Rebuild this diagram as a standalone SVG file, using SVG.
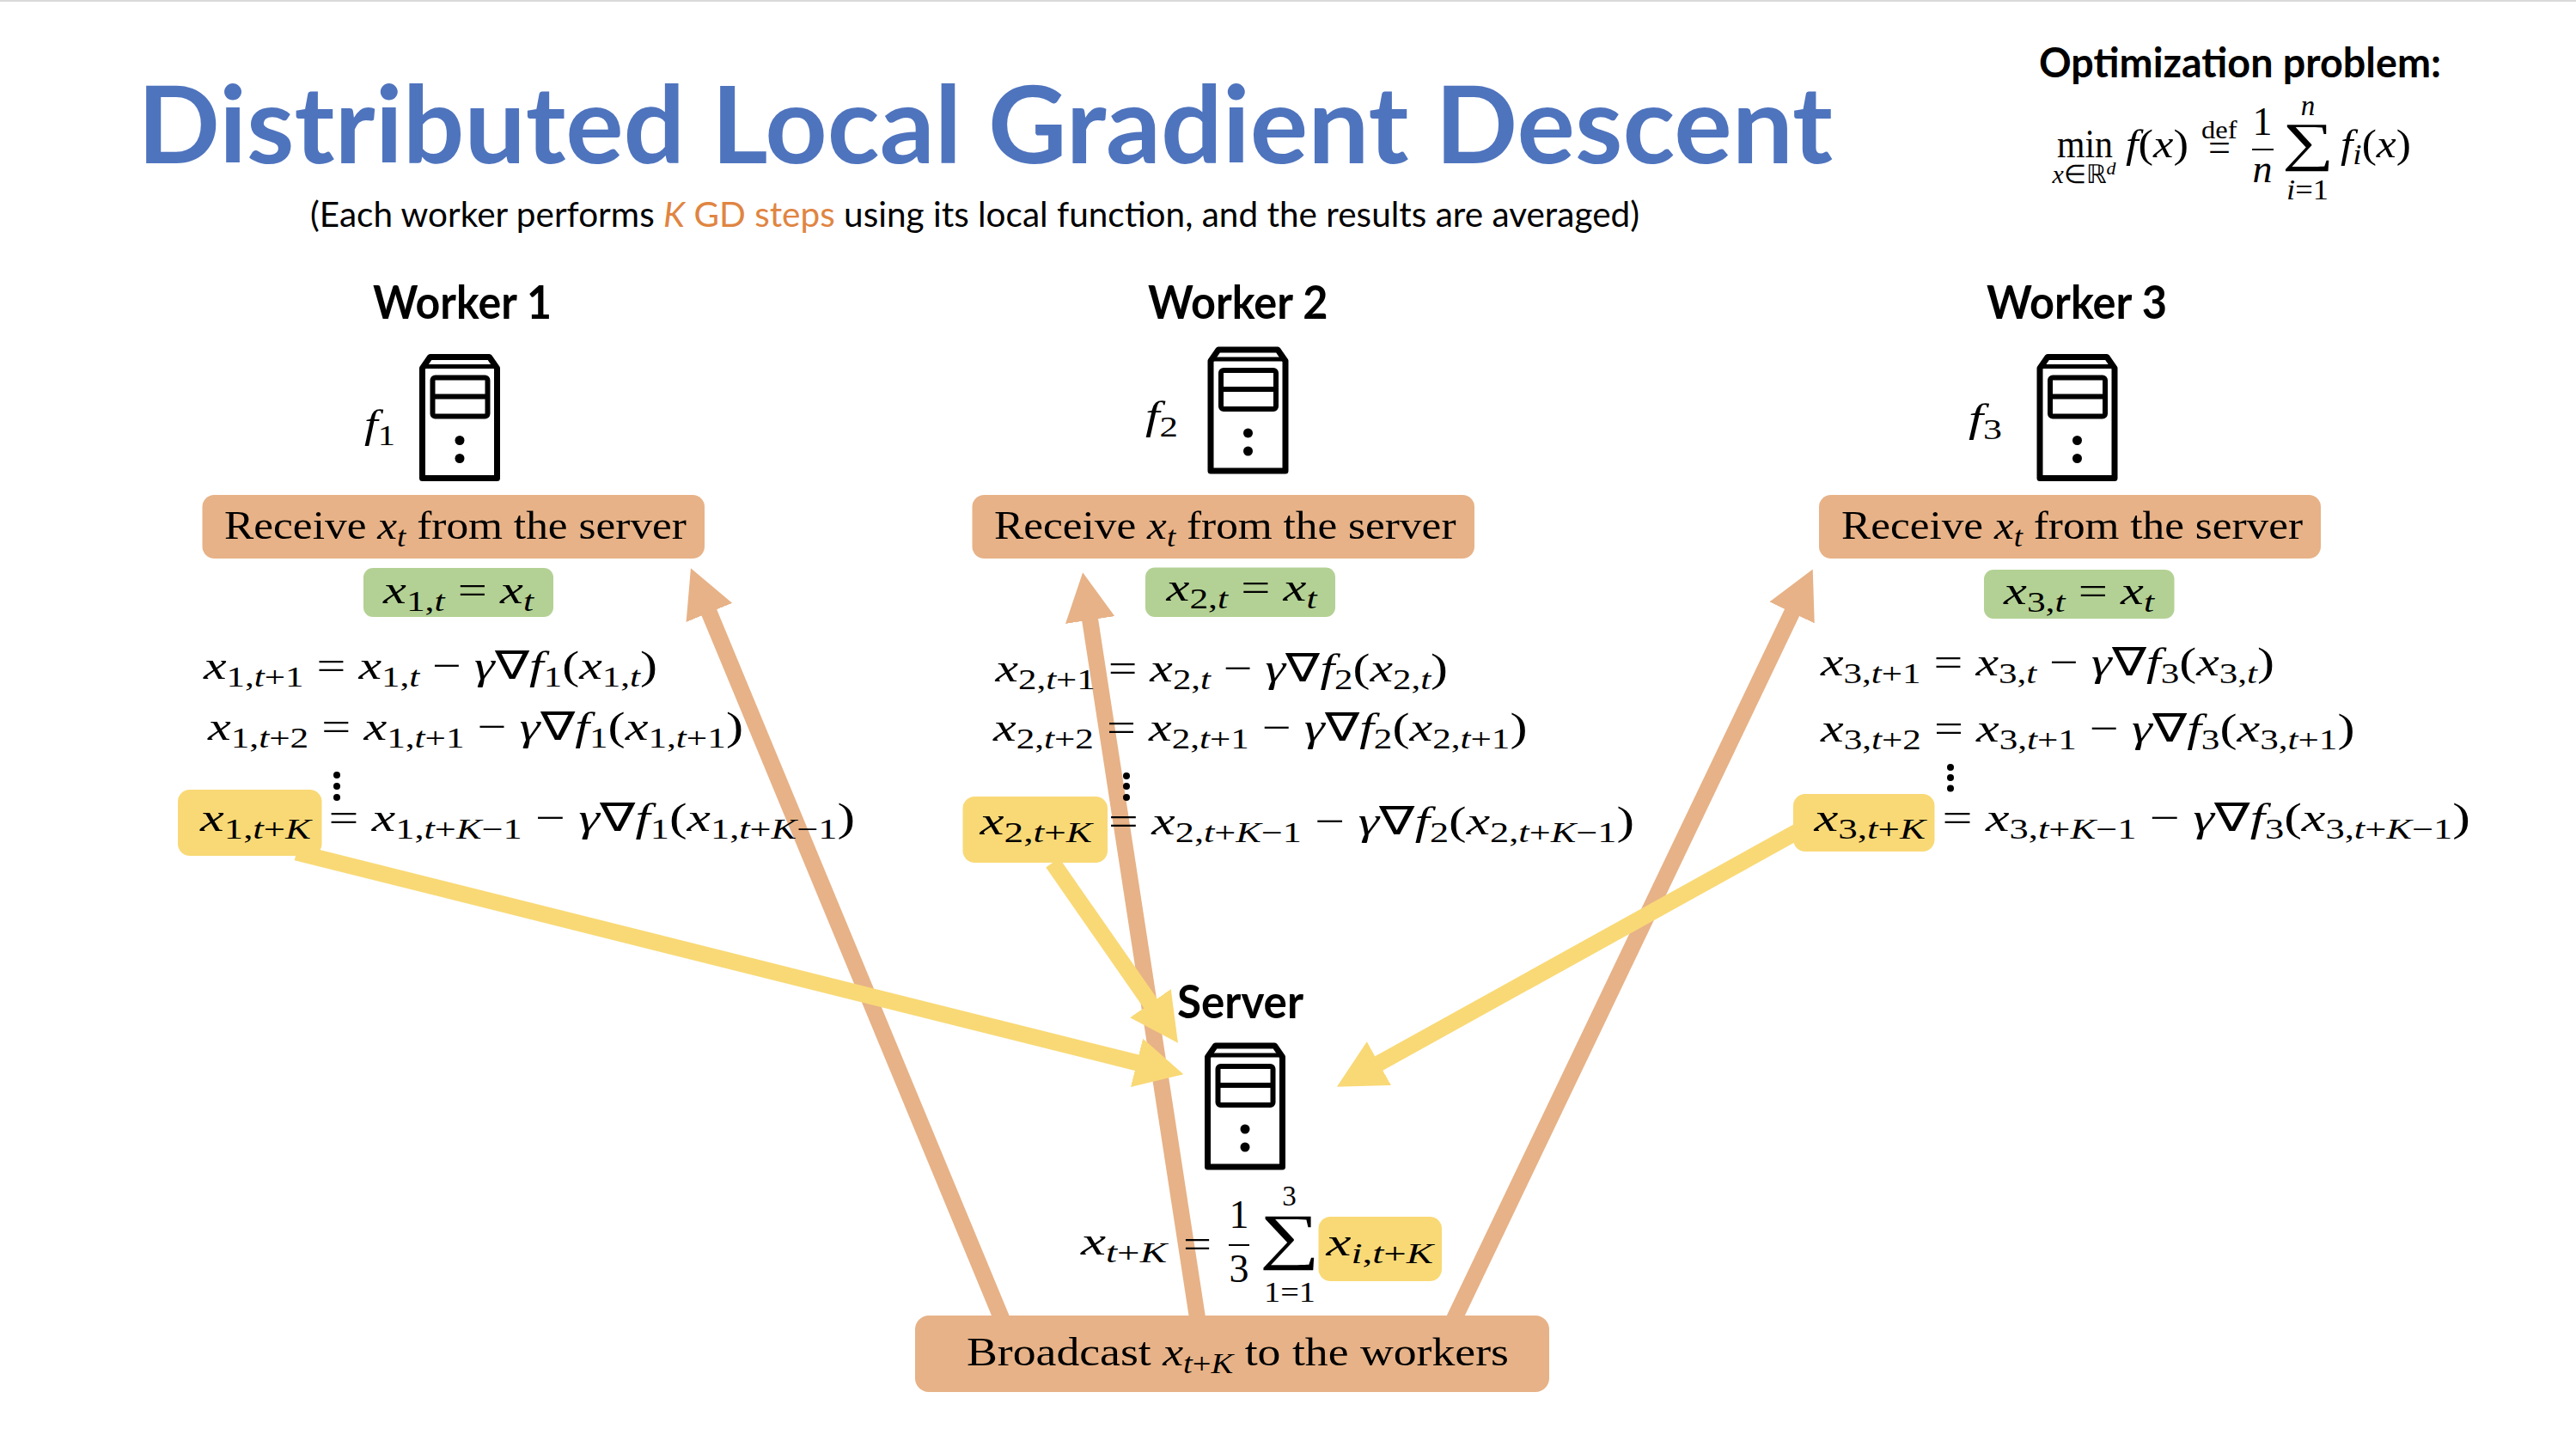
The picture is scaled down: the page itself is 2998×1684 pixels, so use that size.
<svg xmlns="http://www.w3.org/2000/svg" width="2998" height="1684" viewBox="0 0 2998 1684">
<style>
text{fill:#000;white-space:pre}
.h{font:700 53px "Lato","Open Sans",sans-serif}
.e{font:46px "Liberation Serif",serif}
.i{font-style:italic}
.s{font-size:33px}
.o{fill:#E7B287}
.g{fill:#B3D194}
.y{fill:#F9D976}
.co{fill:none;stroke:#E7B287;stroke-width:19}
.cy{fill:none;stroke:#F9D976;stroke-width:19}
</style>
<defs>
<marker id="ho" markerUnits="userSpaceOnUse" viewBox="0 0 56 58" refX="1" refY="29" markerWidth="56" markerHeight="58" orient="auto"><path d="M0 0L56 29L0 58z" fill="#E7B287"/></marker>
<marker id="hy" markerUnits="userSpaceOnUse" viewBox="0 0 56 58" refX="1" refY="29" markerWidth="56" markerHeight="58" orient="auto"><path d="M0 0L56 29L0 58z" fill="#F9D976"/></marker>
<symbol id="srv" width="95" height="149" viewBox="0 0 95 149">
<path d="M4 145V17L13 4H82L91 17V145Z" fill="none" stroke="#000" stroke-width="7" stroke-linejoin="round"/>
<path d="M4 15H91" stroke="#000" stroke-width="5"/>
<rect x="16" y="28" width="64" height="45" rx="3" fill="none" stroke="#000" stroke-width="6"/>
<path d="M16 50H80" stroke="#000" stroke-width="6"/>
<circle cx="47.500" cy="101" r="5.500"/><circle cx="47.500" cy="122" r="5.500"/>
</symbol>
</defs>
<rect width="2998" height="1684" fill="#fff"/>
<path d="M0 1H2998" stroke="#D9D9D9" stroke-width="2"/>
<g id="connectors">
<path class="co" d="M1168 1540L825 712" marker-end="url(#ho)"/>
<path class="co" d="M1394.500 1540L1268.500 720.500" marker-end="url(#ho)"/>
<path class="co" d="M1690 1540L2086 712" marker-end="url(#ho)"/>
<path class="cy" d="M345 992L1324 1237" marker-end="url(#hy)"/>
<path class="cy" d="M1225 1004L1339.500 1168.500" marker-end="url(#hy)"/>
<path class="cy" d="M2095 966L1604 1238" marker-end="url(#hy)"/>
</g>
<g id="title">
<text x="160" y="190" font-family="Lato, Open Sans, sans-serif" font-weight="700" font-size="124" style="fill:#4F74BE" textLength="1973" lengthAdjust="spacingAndGlyphs">Distributed Local Gradient Descent</text>
<text x="361" y="264" font-family="Lato, Open Sans, sans-serif" font-size="41" textLength="1547" lengthAdjust="spacingAndGlyphs">(Each worker performs <tspan font-style="italic" style="fill:#E08542">K</tspan><tspan style="fill:#E08542"> GD steps</tspan> using its local function, and the results are averaged)</text>
</g>
<g id="problem">
<text class="h" x="2373" y="90" style="font-size:47px" textLength="468" lengthAdjust="spacingAndGlyphs">Optimization problem:</text>
<text class="e" x="2394" y="183" textLength="65" lengthAdjust="spacingAndGlyphs">min</text>
<text class="e" x="2388.500" y="213" style="font-size:30px" textLength="74" lengthAdjust="spacingAndGlyphs"><tspan class="i">x</tspan>∈ℝ<tspan class="i" dy="-10" style="font-size:22px">d</tspan></text>
<text class="e" x="2474" y="183" textLength="73" lengthAdjust="spacingAndGlyphs"><tspan class="i">f</tspan>(<tspan class="i">x</tspan>)</text>
<text class="e" x="2562" y="161" style="font-size:30px" textLength="41.500" lengthAdjust="spacingAndGlyphs">def</text>
<text class="e" x="2570" y="187" textLength="26" lengthAdjust="spacingAndGlyphs">=</text>
<text class="e" x="2633" y="157" text-anchor="middle">1</text>
<path d="M2621 174H2646" stroke="#000" stroke-width="2"/>
<text class="e i" x="2633" y="212" text-anchor="middle">n</text>
<text class="e" x="2656" y="186" style="font-size:62px" textLength="60" lengthAdjust="spacingAndGlyphs">∑</text>
<text class="e i s" x="2686" y="134" text-anchor="middle">n</text>
<text class="e s" x="2661" y="232" textLength="49" lengthAdjust="spacingAndGlyphs"><tspan class="i">i</tspan>=1</text>
<text class="e" x="2724" y="183" textLength="82" lengthAdjust="spacingAndGlyphs"><tspan class="i">f</tspan><tspan class="s i" dy="8">i</tspan><tspan dy="-8">(</tspan><tspan class="i">x</tspan>)</text>
</g>
<g id="worker1">
<text class="h" x="434" y="371" textLength="208" lengthAdjust="spacingAndGlyphs">Worker 1</text>
<use href="#srv" x="487.500" y="411.500"/>
<text class="e" x="424" y="509" textLength="36" lengthAdjust="spacingAndGlyphs"><tspan class="i">f</tspan><tspan class="s" dy="9">1</tspan></text>
<rect class="o" x="235.500" y="576" width="584.500" height="74" rx="14"/>
<text class="e" x="261" y="627" textLength="538" lengthAdjust="spacingAndGlyphs">Receive <tspan class="i">x</tspan><tspan class="s i" dy="9">t</tspan><tspan dy="-9"> from the server</tspan></text>
<rect class="g" x="423" y="661" width="221" height="57" rx="11"/>
<text class="e" x="446" y="702" textLength="175" lengthAdjust="spacingAndGlyphs"><tspan class="i">x</tspan><tspan class="s" dy="9">1,<tspan class="i">t</tspan></tspan><tspan dy="-9"> = </tspan><tspan class="i">x</tspan><tspan class="s i" dy="9">t</tspan></text>
<text class="e" x="237" y="790" textLength="528" lengthAdjust="spacingAndGlyphs"><tspan class="i">x</tspan><tspan class="s" dy="9">1,<tspan class="i">t</tspan>+1</tspan><tspan dy="-9"> = </tspan><tspan class="i">x</tspan><tspan class="s" dy="9">1,<tspan class="i">t</tspan></tspan><tspan dy="-9"> − </tspan><tspan class="i">γ</tspan>∇<tspan class="i">f</tspan><tspan class="s" dy="9">1</tspan><tspan dy="-9">(</tspan><tspan class="i">x</tspan><tspan class="s" dy="9">1,<tspan class="i">t</tspan></tspan><tspan dy="-9">)</tspan></text>
<text class="e" x="242" y="861" textLength="623" lengthAdjust="spacingAndGlyphs"><tspan class="i">x</tspan><tspan class="s" dy="9">1,<tspan class="i">t</tspan>+2</tspan><tspan dy="-9"> = </tspan><tspan class="i">x</tspan><tspan class="s" dy="9">1,<tspan class="i">t</tspan>+1</tspan><tspan dy="-9"> − </tspan><tspan class="i">γ</tspan>∇<tspan class="i">f</tspan><tspan class="s" dy="9">1</tspan><tspan dy="-9">(</tspan><tspan class="i">x</tspan><tspan class="s" dy="9">1,<tspan class="i">t</tspan>+1</tspan><tspan dy="-9">)</tspan></text>
<circle cx="392" cy="902" r="4"/><circle cx="392" cy="915" r="4"/><circle cx="392" cy="928" r="4"/>
<rect class="y" x="207" y="919" width="167.500" height="77" rx="14"/>
<text class="e" x="233" y="967" textLength="129" lengthAdjust="spacingAndGlyphs"><tspan class="i">x</tspan><tspan class="s" dy="9">1,<tspan class="i">t</tspan>+<tspan class="i">K</tspan></tspan></text>
<text class="e" x="382.500" y="967" textLength="612.500" lengthAdjust="spacingAndGlyphs">= <tspan class="i">x</tspan><tspan class="s" dy="9">1,<tspan class="i">t</tspan>+<tspan class="i">K</tspan>−1</tspan><tspan dy="-9"> − </tspan><tspan class="i">γ</tspan>∇<tspan class="i">f</tspan><tspan class="s" dy="9">1</tspan><tspan dy="-9">(</tspan><tspan class="i">x</tspan><tspan class="s" dy="9">1,<tspan class="i">t</tspan>+<tspan class="i">K</tspan>−1</tspan><tspan dy="-9">)</tspan></text>
</g>
<g id="worker2">
<text class="h" x="1336" y="371" textLength="209.500" lengthAdjust="spacingAndGlyphs">Worker 2</text>
<use href="#srv" x="1405" y="403"/>
<text class="e" x="1333" y="499" textLength="38" lengthAdjust="spacingAndGlyphs"><tspan class="i">f</tspan><tspan class="s" dy="9">2</tspan></text>
<rect class="o" x="1131.500" y="576" width="584.500" height="74" rx="14"/>
<text class="e" x="1157" y="627" textLength="537.500" lengthAdjust="spacingAndGlyphs">Receive <tspan class="i">x</tspan><tspan class="s i" dy="9">t</tspan><tspan dy="-9"> from the server</tspan></text>
<rect class="g" x="1333" y="660.500" width="221" height="57.500" rx="11"/>
<text class="e" x="1357.500" y="699" textLength="175" lengthAdjust="spacingAndGlyphs"><tspan class="i">x</tspan><tspan class="s" dy="9">2,<tspan class="i">t</tspan></tspan><tspan dy="-9"> = </tspan><tspan class="i">x</tspan><tspan class="s i" dy="9">t</tspan></text>
<text class="e" x="1158.500" y="793" textLength="526.500" lengthAdjust="spacingAndGlyphs"><tspan class="i">x</tspan><tspan class="s" dy="9">2,<tspan class="i">t</tspan>+1</tspan><tspan dy="-9"> = </tspan><tspan class="i">x</tspan><tspan class="s" dy="9">2,<tspan class="i">t</tspan></tspan><tspan dy="-9"> − </tspan><tspan class="i">γ</tspan>∇<tspan class="i">f</tspan><tspan class="s" dy="9">2</tspan><tspan dy="-9">(</tspan><tspan class="i">x</tspan><tspan class="s" dy="9">2,<tspan class="i">t</tspan></tspan><tspan dy="-9">)</tspan></text>
<text class="e" x="1156" y="862" textLength="621.500" lengthAdjust="spacingAndGlyphs"><tspan class="i">x</tspan><tspan class="s" dy="9">2,<tspan class="i">t</tspan>+2</tspan><tspan dy="-9"> = </tspan><tspan class="i">x</tspan><tspan class="s" dy="9">2,<tspan class="i">t</tspan>+1</tspan><tspan dy="-9"> − </tspan><tspan class="i">γ</tspan>∇<tspan class="i">f</tspan><tspan class="s" dy="9">2</tspan><tspan dy="-9">(</tspan><tspan class="i">x</tspan><tspan class="s" dy="9">2,<tspan class="i">t</tspan>+1</tspan><tspan dy="-9">)</tspan></text>
<circle cx="1311" cy="903" r="4"/><circle cx="1311" cy="915" r="4"/><circle cx="1311" cy="928" r="4"/>
<rect class="y" x="1120.500" y="927" width="168.500" height="77" rx="14"/>
<text class="e" x="1140.500" y="971" textLength="130.500" lengthAdjust="spacingAndGlyphs"><tspan class="i">x</tspan><tspan class="s" dy="9">2,<tspan class="i">t</tspan>+<tspan class="i">K</tspan></tspan></text>
<text class="e" x="1290" y="971" textLength="612" lengthAdjust="spacingAndGlyphs">= <tspan class="i">x</tspan><tspan class="s" dy="9">2,<tspan class="i">t</tspan>+<tspan class="i">K</tspan>−1</tspan><tspan dy="-9"> − </tspan><tspan class="i">γ</tspan>∇<tspan class="i">f</tspan><tspan class="s" dy="9">2</tspan><tspan dy="-9">(</tspan><tspan class="i">x</tspan><tspan class="s" dy="9">2,<tspan class="i">t</tspan>+<tspan class="i">K</tspan>−1</tspan><tspan dy="-9">)</tspan></text>
</g>
<g id="worker3">
<text class="h" x="2312" y="371" textLength="210" lengthAdjust="spacingAndGlyphs">Worker 3</text>
<use href="#srv" x="2370" y="411.500"/>
<text class="e" x="2291" y="502" textLength="39" lengthAdjust="spacingAndGlyphs"><tspan class="i">f</tspan><tspan class="s" dy="9">3</tspan></text>
<rect class="o" x="2117" y="576" width="584" height="74" rx="14"/>
<text class="e" x="2143" y="627" textLength="537" lengthAdjust="spacingAndGlyphs">Receive <tspan class="i">x</tspan><tspan class="s i" dy="9">t</tspan><tspan dy="-9"> from the server</tspan></text>
<rect class="g" x="2309" y="663" width="221.500" height="57" rx="11"/>
<text class="e" x="2332" y="703" textLength="175" lengthAdjust="spacingAndGlyphs"><tspan class="i">x</tspan><tspan class="s" dy="9">3,<tspan class="i">t</tspan></tspan><tspan dy="-9"> = </tspan><tspan class="i">x</tspan><tspan class="s i" dy="9">t</tspan></text>
<text class="e" x="2119" y="786" textLength="528" lengthAdjust="spacingAndGlyphs"><tspan class="i">x</tspan><tspan class="s" dy="9">3,<tspan class="i">t</tspan>+1</tspan><tspan dy="-9"> = </tspan><tspan class="i">x</tspan><tspan class="s" dy="9">3,<tspan class="i">t</tspan></tspan><tspan dy="-9"> − </tspan><tspan class="i">γ</tspan>∇<tspan class="i">f</tspan><tspan class="s" dy="9">3</tspan><tspan dy="-9">(</tspan><tspan class="i">x</tspan><tspan class="s" dy="9">3,<tspan class="i">t</tspan></tspan><tspan dy="-9">)</tspan></text>
<text class="e" x="2119" y="863" textLength="621.500" lengthAdjust="spacingAndGlyphs"><tspan class="i">x</tspan><tspan class="s" dy="9">3,<tspan class="i">t</tspan>+2</tspan><tspan dy="-9"> = </tspan><tspan class="i">x</tspan><tspan class="s" dy="9">3,<tspan class="i">t</tspan>+1</tspan><tspan dy="-9"> − </tspan><tspan class="i">γ</tspan>∇<tspan class="i">f</tspan><tspan class="s" dy="9">3</tspan><tspan dy="-9">(</tspan><tspan class="i">x</tspan><tspan class="s" dy="9">3,<tspan class="i">t</tspan>+1</tspan><tspan dy="-9">)</tspan></text>
<circle cx="2270" cy="893" r="4"/><circle cx="2270" cy="905" r="4"/><circle cx="2270" cy="917.500" r="4"/>
<rect class="y" x="2087" y="924" width="164.500" height="67" rx="14"/>
<text class="e" x="2111.500" y="967" textLength="129.500" lengthAdjust="spacingAndGlyphs"><tspan class="i">x</tspan><tspan class="s" dy="9">3,<tspan class="i">t</tspan>+<tspan class="i">K</tspan></tspan></text>
<text class="e" x="2260.500" y="967" textLength="614.500" lengthAdjust="spacingAndGlyphs">= <tspan class="i">x</tspan><tspan class="s" dy="9">3,<tspan class="i">t</tspan>+<tspan class="i">K</tspan>−1</tspan><tspan dy="-9"> − </tspan><tspan class="i">γ</tspan>∇<tspan class="i">f</tspan><tspan class="s" dy="9">3</tspan><tspan dy="-9">(</tspan><tspan class="i">x</tspan><tspan class="s" dy="9">3,<tspan class="i">t</tspan>+<tspan class="i">K</tspan>−1</tspan><tspan dy="-9">)</tspan></text>
</g>
<g id="server">
<text class="h" x="1370" y="1185" textLength="147" lengthAdjust="spacingAndGlyphs">Server</text>
<use href="#srv" x="1401.500" y="1213"/>
<text class="e" x="1258" y="1460" textLength="100" lengthAdjust="spacingAndGlyphs"><tspan class="i">x</tspan><tspan class="s" dy="9"><tspan class="i">t</tspan>+<tspan class="i">K</tspan></tspan></text>
<text class="e" x="1377" y="1463" textLength="33" lengthAdjust="spacingAndGlyphs">=</text>
<text class="e" x="1442" y="1429" text-anchor="middle">1</text>
<path d="M1430 1449H1454" stroke="#000" stroke-width="2"/>
<text class="e" x="1442" y="1492" text-anchor="middle">3</text>
<text class="e" x="1466" y="1463" style="font-size:72px" textLength="70" lengthAdjust="spacingAndGlyphs">∑</text>
<text class="e s" x="1500.500" y="1403" text-anchor="middle">3</text>
<text class="e s" x="1471" y="1515" textLength="60" lengthAdjust="spacingAndGlyphs">1=1</text>
<rect class="y" x="1534.500" y="1416" width="143.500" height="75" rx="14"/>
<text class="e" x="1543.500" y="1461" textLength="124.500" lengthAdjust="spacingAndGlyphs"><tspan class="i">x</tspan><tspan class="s i" dy="9">i</tspan><tspan class="s">,<tspan class="i">t</tspan>+<tspan class="i">K</tspan></tspan></text>
<rect class="o" x="1065" y="1531" width="738" height="89" rx="16"/>
<text class="e" x="1125" y="1589" textLength="631" lengthAdjust="spacingAndGlyphs">Broadcast <tspan class="i">x</tspan><tspan class="s" dy="9"><tspan class="i">t</tspan>+<tspan class="i">K</tspan></tspan><tspan dy="-9"> to the workers</tspan></text>
</g>
</svg>
